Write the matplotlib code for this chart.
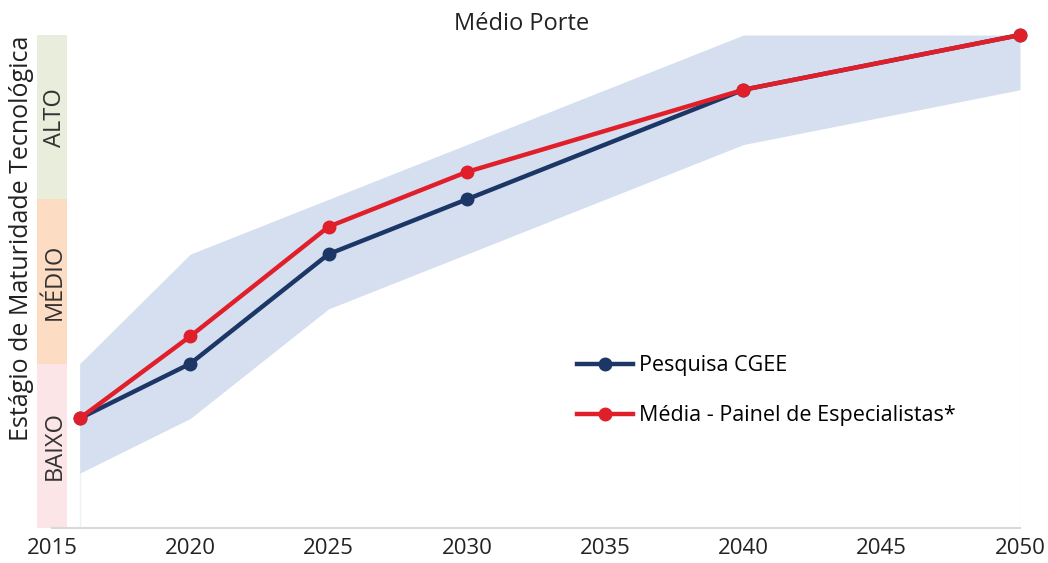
import matplotlib.pyplot as plt
from matplotlib.patches import Rectangle

# data (maturity level on a 0-18 scale: BAIXO 0-6, MÉDIO 6-12, ALTO 12-18)
years = [2016, 2020, 2025, 2030, 2040, 2050]
pesquisa = [4, 6, 10, 12, 16, 18]
painel = [4, 7, 11, 13, 16, 18]
faixa_min = [2, 4, 8, 10, 14, 16]
faixa_max = [6, 10, 12, 14, 18, 18]

niveis = ['BAIXO', 'MÉDIO', 'ALTO']
niveis_lim = [0, 6, 12, 18]
niveis_cor = ['#fbe5e6', '#fddcc4', '#e8eedb']
tick_years = [2015, 2020, 2025, 2030, 2035, 2040, 2045, 2050]

plt.rcParams['font.family'] = ['Open Sans', 'DejaVu Sans']

fig = plt.figure(figsize=(10.48, 5.63), dpi=100)
ax = fig.add_axes([52 / 1048, 1 - 528 / 563, 968 / 1048, 493 / 563])

ax.fill_between(years, faixa_min, faixa_max, color='#d5dff0', lw=0, zorder=1)
ax.plot(years, pesquisa, color='#1c3766', lw=3.2, marker='o', ms=9,
        label='Pesquisa CGEE', zorder=3, clip_on=False)
ax.plot(years, painel, color='#e01f2b', lw=3.2, marker='o', ms=9,
        label='Média - Painel de Especialistas*', zorder=4, clip_on=False)

# faint guide lines at the ends of the band
ax.vlines([years[0], years[-1]], 0, [faixa_min[0], faixa_min[-1]],
          color='#eef0f6', lw=1, zorder=0)

# maturity strip on the left
trans = ax.get_yaxis_transform()
for i, nome in enumerate(niveis):
    lo, hi = niveis_lim[i], niveis_lim[i + 1]
    ax.add_patch(Rectangle((-0.0155, lo), 0.031, hi - lo, transform=trans,
                           color=niveis_cor[i], lw=0, clip_on=False, zorder=0))
    ax.text(0.003, (lo + hi) / 2, nome, transform=trans, rotation=90,
            ha='center', va='center', fontsize=17, color='#333333')

ax.set_xlim(2015, 2050)
ax.set_ylim(0, 18)
ax.set_xticks(tick_years)
ax.set_xticklabels([str(y) for y in tick_years])
ax.set_yticks([])
ax.tick_params(axis='x', length=0, pad=7, labelsize=16, labelcolor='#222222')
for s in ['top', 'right', 'left']:
    ax.spines[s].set_visible(False)
ax.spines['bottom'].set_color('#d9d9d9')
ax.spines['bottom'].set_linewidth(1.5)

fig.text(22 / 1048, 1 - 238 / 563, 'Estágio de Maturidade Tecnológica',
         rotation=90, ha='center', va='center', fontsize=18, color='#222222')
fig.text(522 / 1048, 1 - 24 / 563, 'Médio Porte', ha='center', va='center',
         fontsize=17, color='#222222')

ax.legend(loc='upper left', bbox_to_anchor=(0.522, 0.39), frameon=False,
          fontsize=15.5, handlelength=2.6, labelspacing=1.35,
          handletextpad=0.3)

fig.savefig('out.png', dpi=100)
